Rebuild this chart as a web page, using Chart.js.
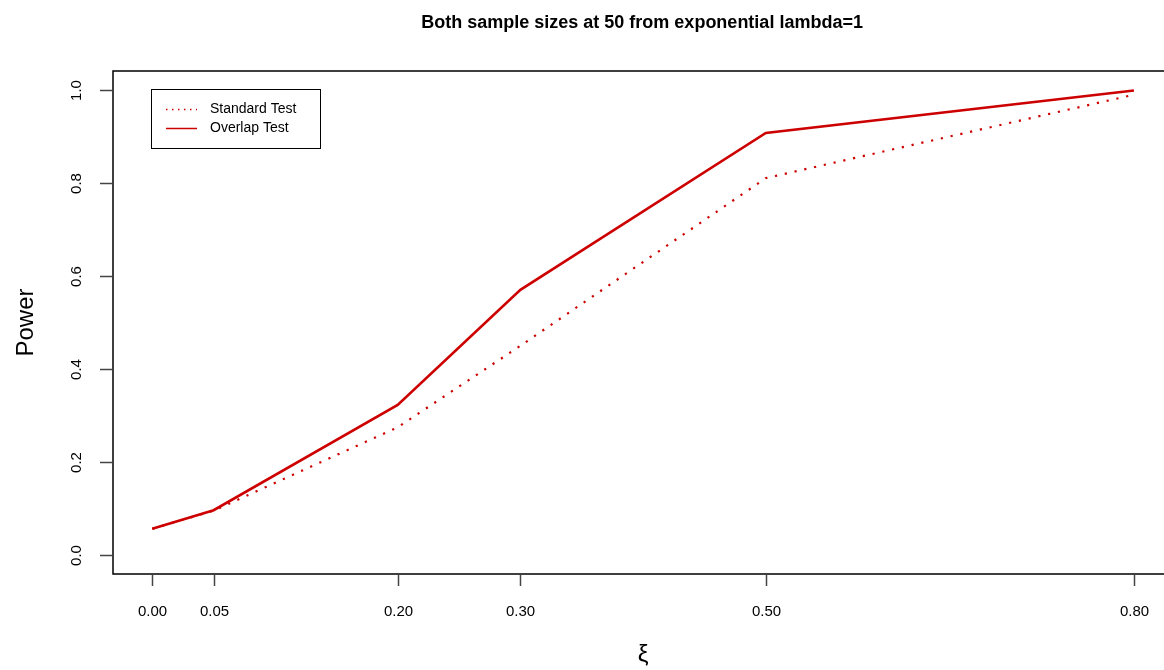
<!DOCTYPE html>
<html>
<head>
<meta charset="utf-8">
<script src="https://cdn.jsdelivr.net/npm/chart.js@4"></script>
<style>
  html, body { margin: 0; padding: 0; background: #fff; }
  #wrap { width: 1164px; height: 670px; }
</style>
</head>
<body>
<div id="wrap"><canvas id="powerChart" width="1164" height="670"></canvas></div>
<script>
// Data
const xi = [0, 0.05, 0.2, 0.3, 0.5, 0.8];
const standardPower = [0.057, 0.096, 0.275, 0.450, 0.810, 0.989];
const overlapPower = [0.057, 0.097, 0.323, 0.570, 0.907, 0.998];
const xTicks = [0, 0.05, 0.2, 0.3, 0.5, 0.8];
const xTickLabels = ["0.00", "0.05", "0.20", "0.30", "0.50", "0.80"];
const yTicks = [0, 0.2, 0.4, 0.6, 0.8, 1.0];
const yTickLabels = ["0.0", "0.2", "0.4", "0.6", "0.8", "1.0"];

const RED = "#CD0000";
const FONT = "'Liberation Sans', Arial, sans-serif";

const toPoints = (ys) => xi.map((x, i) => ({ x: x, y: ys[i] }));

// R-style axes, titles and legend
const rDecorations = {
  id: "rDecorations",
  afterDraw(chart) {
    const { ctx, chartArea: a, scales } = chart;
    const xs = scales.x, ys = scales.y;
    ctx.save();
    ctx.strokeStyle = "#000";
    ctx.lineWidth = 1.5;

    // frame (right side falls outside the picture)
    ctx.beginPath();
    ctx.moveTo(a.right + 10, a.top);
    ctx.lineTo(a.left, a.top);
    ctx.lineTo(a.left, a.bottom);
    ctx.lineTo(a.right + 10, a.bottom);
    ctx.stroke();

    // x ticks
    ctx.fillStyle = "#000";
    ctx.strokeStyle = "#444";
    ctx.font = "15px " + FONT;
    ctx.textAlign = "center";
    ctx.textBaseline = "middle";
    xTicks.forEach((v, i) => {
      const px = Math.round(xs.getPixelForValue(v)) + 0.5;
      ctx.beginPath();
      ctx.moveTo(px, a.bottom + 1);
      ctx.lineTo(px, a.bottom + 12);
      ctx.stroke();
      ctx.fillText(xTickLabels[i], px, 612);
    });

    // y ticks
    yTicks.forEach((v, i) => {
      const py = Math.round(ys.getPixelForValue(v)) + 0.5;
      ctx.beginPath();
      ctx.moveTo(a.left - 1, py);
      ctx.lineTo(a.left - 13, py);
      ctx.stroke();
      ctx.save();
      ctx.translate(77, py);
      ctx.rotate(-Math.PI / 2);
      ctx.fillText(yTickLabels[i], 0, 0);
      ctx.restore();
    });

    // title
    const midX = (xs.getPixelForValue(-0.032) + xs.getPixelForValue(0.832)) / 2;
    ctx.font = "bold 18px " + FONT;
    ctx.fillText("Both sample sizes at 50 from exponential lambda=1", midX - 1, 23);

    // axis titles
    ctx.font = "24px " + FONT;
    ctx.fillText("\u03BE", midX, 655);
    ctx.save();
    ctx.translate(26, (a.top + a.bottom) / 2);
    ctx.rotate(-Math.PI / 2);
    ctx.fillText("Power", 0, 0);
    ctx.restore();

    // legend
    ctx.strokeStyle = "#000";
    ctx.lineWidth = 1;
    ctx.strokeRect(151.5, 89.5, 169, 59);
    ctx.strokeStyle = RED;
    ctx.lineWidth = 1.5;
    ctx.setLineDash([1.5, 4.5]);
    ctx.beginPath();
    ctx.moveTo(166, 109.5);
    ctx.lineTo(197, 109.5);
    ctx.stroke();
    ctx.setLineDash([]);
    ctx.beginPath();
    ctx.moveTo(166, 128.5);
    ctx.lineTo(197, 128.5);
    ctx.stroke();
    ctx.font = "14px " + FONT;
    ctx.textAlign = "left";
    ctx.fillText("Standard Test", 210, 109);
    ctx.fillText("Overlap Test", 210, 128);
    ctx.restore();
  },
};

const initChart = () => {
  const powerCtx = document.getElementById("powerChart").getContext("2d");
  new Chart(powerCtx, {
    type: "line",
    data: {
      datasets: [
        {
          label: "Standard Test",
          data: toPoints(standardPower),
          borderColor: RED,
          borderWidth: 2.2,
          borderDash: [2.2, 7.8],
          pointRadius: 0,
          tension: 0,
        },
        {
          label: "Overlap Test",
          data: toPoints(overlapPower),
          borderColor: RED,
          borderWidth: 2.6,
          pointRadius: 0,
          tension: 0,
        },
      ],
    },
    options: {
      responsive: false,
      animation: false,
      layout: { padding: { left: 113, top: 71, right: 0, bottom: 96 } },
      scales: {
        x: { type: "linear", display: false, min: -0.032, max: 0.8245 },
        y: { type: "linear", display: false, min: -0.04, max: 1.04 },
      },
      plugins: {
        legend: { display: false },
        title: { display: false },
        tooltip: { enabled: false },
      },
    },
    plugins: [rDecorations],
  });
};

document.addEventListener("DOMContentLoaded", initChart);
</script>
</body>
</html>
